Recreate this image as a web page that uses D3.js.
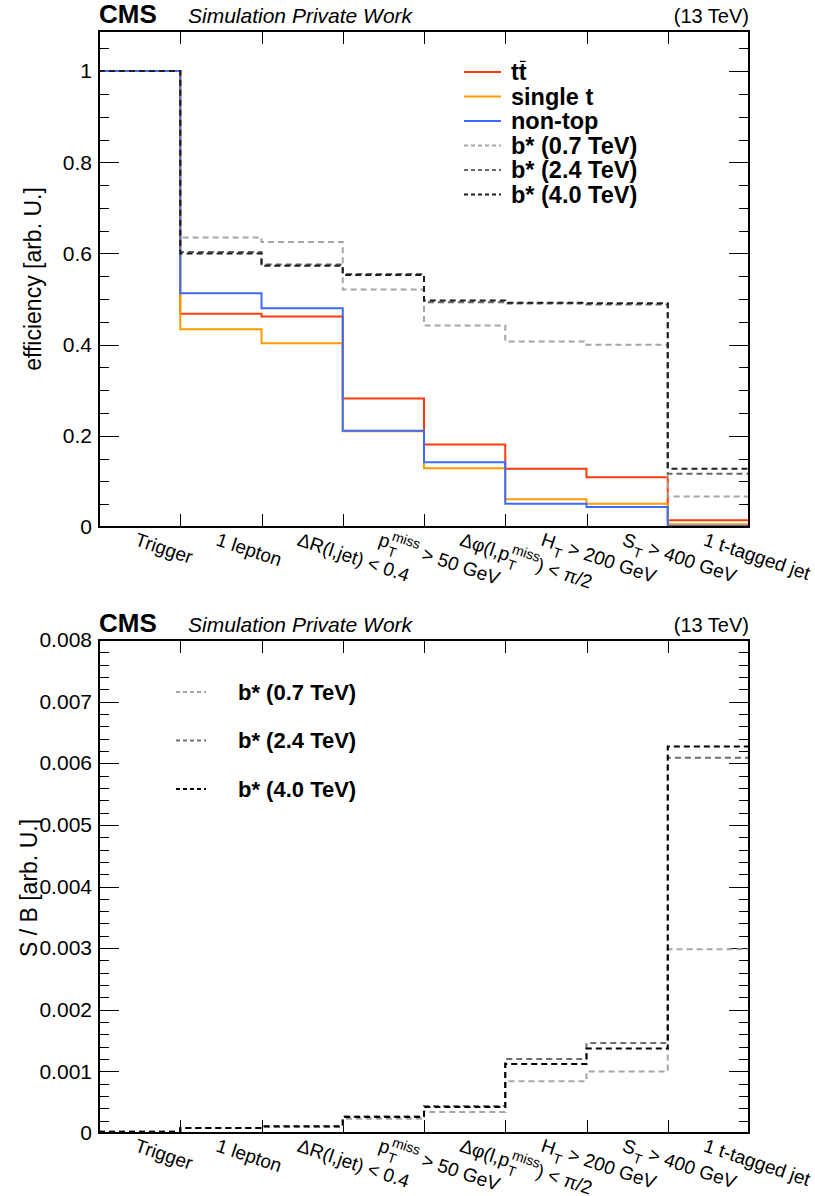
<html>
<head>
<meta charset="utf-8">
<title>b* cutflow</title>
<script src="https://d3js.org/d3.v7.min.js"></script>
<style>
  body { margin: 0; background: #fff; }
  text { font-family: "Liberation Sans", Arial, sans-serif; fill: #000; white-space: pre; }
  .tick line { stroke: #000; stroke-width: 1; }
  .domain { display: none; }
  .hist { fill: none; stroke-width: 2; }
</style>
</head>
<body>
<script>
// cut names (x bins), rich labels as pieces
var cuts = ["Trigger", "1 lepton", "dR", "ptmiss", "dphi", "HT", "ST", "1 t-tagged jet"];
var cutLabels = [
  [{t: "Trigger"}],
  [{t: "1 lepton"}],
  [{t: "\u0394R(l,jet) < 0.4"}],
  [{t: "p"}, {sup: "miss", sub: "T"}, {t: " > 50 GeV"}],
  [{t: "\u0394\u03c6(l,p"}, {sup: "miss", sub: "T"}, {t: ") < \u03c0/2"}],
  [{t: "H"}, {sub: "T"}, {t: " > 200 GeV"}],
  [{t: "S"}, {sub: "T"}, {t: " > 400 GeV"}],
  [{t: "1 t-tagged jet"}]
];

// efficiencies (top panel)
var effTT     = [1, 0.468, 0.462, 0.282, 0.181, 0.128, 0.109, 0.015];
var effSingle = [1, 0.434, 0.403, 0.210, 0.129, 0.061, 0.051, 0.006];
var effNonTop = [1, 0.513, 0.480, 0.211, 0.142, 0.051, 0.044, 0.002];
var effB07    = [1, 0.635, 0.625, 0.521, 0.442, 0.407, 0.400, 0.067];
var effB24    = [1, 0.603, 0.576, 0.555, 0.493, 0.490, 0.488, 0.117];
var effB40    = [1, 0.600, 0.573, 0.553, 0.497, 0.492, 0.491, 0.128];

// S/B (bottom panel)
var sbB07 = [0.00002, 0.00008, 0.00010, 0.00023, 0.00034, 0.00084, 0.00100, 0.00298];
var sbB24 = [0.00002, 0.00008, 0.00010, 0.00027, 0.00044, 0.00120, 0.00146, 0.00609];
var sbB40 = [0.00002, 0.00008, 0.00011, 0.00026, 0.00042, 0.00112, 0.00137, 0.00627];

var effTicks = [0, 0.2, 0.4, 0.6, 0.8, 1];
var sbTicks = [0, 0.001, 0.002, 0.003, 0.004, 0.005, 0.006, 0.007, 0.008];

var col = {tt: "#ff3a0a", single: "#ff9a00", nontop: "#3d6bff", b07: "#a6a6a6", b24: "#666666", b40: "#1e1e1e"};

var W = 815, H = 1196;
var svg = d3.select("body").append("svg").attr("width", W).attr("height", H);

var x = d3.scaleLinear().domain([0, cuts.length]).range([99, 749]);

function drawPanel(p) {
  var y = d3.scaleLinear().domain(p.domain).range([p.bottom, p.top]);
  var g = svg.append("g");

  // minor ticks left/right
  g.append("g").attr("transform", "translate(" + x(0) + ",0)")
    .call(d3.axisLeft(y).tickValues(p.minor).tickSize(-10).tickFormat(""));
  g.append("g").attr("transform", "translate(" + x(8) + ",0)")
    .call(d3.axisRight(y).tickValues(p.minor).tickSize(-10).tickFormat(""));
  // major ticks
  g.append("g").attr("class", "yaxis").attr("transform", "translate(" + x(0) + ",0)")
    .call(d3.axisLeft(y).tickValues(p.major).tickSize(-20).tickPadding(7).tickFormat(p.fmt))
    .selectAll("text").style("font-size", "21px");
  g.append("g").attr("transform", "translate(" + x(8) + ",0)")
    .call(d3.axisRight(y).tickValues(p.major).tickSize(-20).tickFormat(""));
  // bin edge ticks
  var edges = d3.range(1, cuts.length);
  g.append("g").attr("transform", "translate(0," + p.bottom + ")")
    .call(d3.axisBottom(x).tickValues(edges).tickSize(-13).tickFormat(""));
  g.append("g").attr("transform", "translate(0," + p.top + ")")
    .call(d3.axisTop(x).tickValues(edges).tickSize(-13).tickFormat(""));
  g.selectAll(".tick line").attr("shape-rendering", "crispEdges");

  // histograms
  var line = d3.line().curve(d3.curveStepAfter);
  p.series.forEach(function(s) {
    var pts = s.vals.map(function(v, i) { return [x(i), y(v)]; });
    pts.push([x(s.vals.length), y(s.vals[s.vals.length - 1])]);
    g.append("path").attr("class", "hist")
      .attr("d", line(pts))
      .attr("stroke", s.color)
      .attr("stroke-dasharray", s.dash ? "6,4" : null);
  });

  // frame
  g.append("rect").attr("x", x(0)).attr("y", p.top)
    .attr("width", x(8) - x(0)).attr("height", p.bottom - p.top)
    .attr("fill", "none").attr("stroke", "#000").attr("stroke-width", 2);

  // header
  g.append("text").attr("x", x(0)).attr("y", p.top - 8)
    .style("font-size", "26px").style("font-weight", "bold").text("CMS");
  g.append("text").attr("x", 188).attr("y", p.top - 8)
    .style("font-size", "21px").style("font-style", "italic").text("Simulation Private Work");
  g.append("text").attr("x", x(8)).attr("y", p.top - 8).attr("text-anchor", "end")
    .style("font-size", "20px").text("(13 TeV)");

  // y title
  g.append("text")
    .attr("transform", "translate(" + p.titleX + "," + p.titleY + ") rotate(-90)")
    .attr("text-anchor", "middle").style("font-size", "23px").text(p.ytitle);

  // x labels
  cutLabels.forEach(function(segs, i) {
    var gg = g.append("g")
      .attr("transform", "translate(" + (x(i + 0.5) - 6) + "," + (p.bottom + 18) + ") rotate(18.5)");
    var cx = 0;
    segs.forEach(function(s) {
      if (s.t) {
        var t = gg.append("text").attr("x", cx).attr("y", 0).style("font-size", "19px").text(s.t);
        cx += t.node().getComputedTextLength();
      } else {
        var w = 0;
        if (s.sup) {
          var a = gg.append("text").attr("x", cx + 1).attr("y", -9).style("font-size", "14px").text(s.sup);
          w = Math.max(w, a.node().getComputedTextLength() + 1);
        }
        if (s.sub) {
          var b = gg.append("text").attr("x", cx + 1).attr("y", 7).style("font-size", "14px").text(s.sub);
          w = Math.max(w, b.node().getComputedTextLength() + 1);
        }
        cx += w;
      }
    });
  });

  // legend
  var lg = g.append("g");
  p.legend.forEach(function(s, i) {
    var ly = p.legY + i * p.legStep;
    lg.append("line").attr("x1", p.legX).attr("x2", p.legX + p.legLen)
      .attr("y1", ly).attr("y2", ly)
      .attr("stroke", s.color).attr("stroke-width", 2)
      .attr("stroke-dasharray", s.dash ? "4,3" : null);
    var tx = p.legX + p.legLen + p.legGap;
    var t = lg.append("text").attr("x", tx).attr("y", ly + p.legFont * 0.36)
      .style("font-size", p.legFont + "px").style("font-weight", "bold").text(s.name);
    if (s.bar) {
      // overline on the anti-top
      var full = t.node().getComputedTextLength();
      lg.append("line")
        .attr("x1", tx + full / 2 + 1).attr("x2", tx + full - 1)
        .attr("y1", ly - p.legFont * 0.45).attr("y2", ly - p.legFont * 0.45)
        .attr("stroke", "#000").attr("stroke-width", 1.3);
    }
  });
}

drawPanel({
  top: 31, bottom: 527, domain: [0, 1.088],
  major: effTicks, minor: d3.range(0, 22).map(function(i) { return i * 0.05; }),
  fmt: function(d) { return String(+d.toFixed(1)); },
  ytitle: "efficiency [arb. U.]", titleX: 41, titleY: 279,
  series: [
    {vals: effTT, color: col.tt},
    {vals: effSingle, color: col.single},
    {vals: effNonTop, color: col.nontop},
    {vals: effB07, color: col.b07, dash: true},
    {vals: effB24, color: col.b24, dash: true},
    {vals: effB40, color: col.b40, dash: true}
  ],
  legX: 464, legLen: 37, legGap: 10, legFont: 23.5, legY: 72, legStep: 24.5,
  legend: [
    {name: "tt", color: col.tt, bar: true},
    {name: "single t", color: col.single},
    {name: "non-top", color: col.nontop},
    {name: "b* (0.7 TeV)", color: col.b07, dash: true},
    {name: "b* (2.4 TeV)", color: col.b24, dash: true},
    {name: "b* (4.0 TeV)", color: col.b40, dash: true}
  ]
});

drawPanel({
  top: 640, bottom: 1133, domain: [0, 0.008],
  major: sbTicks, minor: d3.range(0, 41).map(function(i) { return i * 0.0002; }),
  fmt: function(d) { return d === 0 ? "0" : d3.format(".3f")(d); },
  ytitle: "S / B [arb. U.]", titleX: 37, titleY: 888,
  series: [
    {vals: sbB07, color: col.b07, dash: true},
    {vals: sbB24, color: "#707070", dash: true},
    {vals: sbB40, color: "#000000", dash: true}
  ],
  legX: 176, legLen: 30, legGap: 32, legFont: 22, legY: 692, legStep: 48.5,
  legend: [
    {name: "b* (0.7 TeV)", color: col.b07, dash: true},
    {name: "b* (2.4 TeV)", color: "#707070", dash: true},
    {name: "b* (4.0 TeV)", color: "#000000", dash: true}
  ]
});
</script>
</body>
</html>
